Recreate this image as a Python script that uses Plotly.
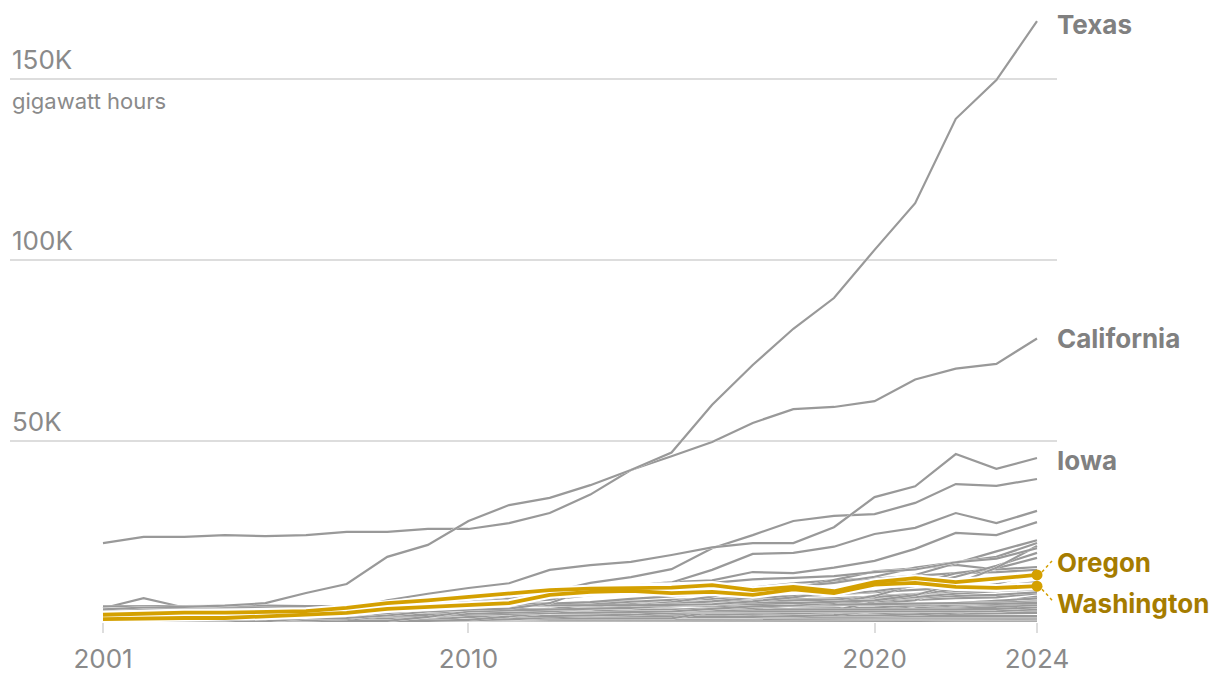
import plotly.graph_objects as go

years = list(range(2001, 2025))

# Generation, gigawatt hours
texas = [3500, 4000, 4200, 4500, 5200, 8000, 10500, 18000, 21300, 27900, 32300, 34300, 37800, 42000, 46800, 60000, 71000, 81000, 89500, 102800, 115700, 139000, 149700, 166000]
california = [21800, 23500, 23500, 24000, 23700, 24000, 24900, 24900, 25700, 25700, 27300, 30100, 35200, 42000, 45800, 49700, 55000, 58800, 59400, 61000, 67000, 70000, 71300, 78300]
iowa = [1000, 1100, 1200, 1300, 1700, 2400, 3400, 6000, 7800, 9400, 10700, 14400, 15700, 16600, 18500, 20600, 21800, 21800, 26200, 34500, 37500, 46400, 42300, 45300]
oklahoma = [300, 400, 400, 500, 1000, 1800, 2500, 3000, 4600, 5300, 6400, 8200, 10800, 12400, 14600, 20400, 24000, 27900, 29300, 29800, 32900, 38100, 37600, 39500]
kansas = [100, 100, 100, 100, 200, 1000, 1100, 1800, 2900, 3400, 3700, 5200, 9200, 9800, 10900, 14400, 18800, 19100, 20800, 24300, 26000, 30100, 27300, 30700]
illinois = [200, 200, 200, 200, 300, 500, 800, 2400, 3000, 5000, 6300, 7800, 9600, 10000, 11000, 11500, 13800, 13500, 15000, 16900, 20200, 24600, 24000, 27600]
minnesota = [800, 900, 1000, 1200, 1700, 2200, 2800, 4400, 5100, 5600, 7000, 8000, 9000, 9600, 10000, 10800, 11800, 12200, 12700, 13800, 14500, 16500, 17500, 20400]
colorado = [100, 300, 600, 900, 1000, 1000, 1300, 3200, 3400, 4500, 5500, 6200, 7400, 8200, 8300, 8800, 9400, 9800, 10800, 12500, 15000, 16500, 18000, 21800]
north_dakota = [0, 0, 100, 100, 100, 400, 600, 1700, 3000, 4700, 5100, 5100, 5500, 6400, 7100, 8100, 9100, 9200, 11500, 14000, 14800, 15800, 14500, 15200]
florida = [4300, 4400, 4500, 4400, 4500, 4400, 4300, 4400, 4500, 4500, 4600, 4600, 4500, 4600, 4700, 4900, 5700, 6800, 8400, 10000, 13000, 16300, 19500, 22600]
indiana = [100, 100, 100, 100, 100, 100, 100, 300, 1400, 2900, 3200, 3500, 3600, 3900, 4500, 4900, 5400, 5200, 5600, 6000, 7400, 10500, 15000, 21000]
nevada = [1400, 1400, 1400, 1400, 1400, 1400, 1500, 1700, 2000, 2200, 2500, 2900, 3600, 4300, 4800, 5700, 6700, 7100, 7600, 8500, 10000, 12500, 15500, 19100]
north_carolina = [2000, 2000, 2100, 2200, 2200, 2200, 2300, 2500, 2400, 2600, 2600, 2900, 3500, 4500, 5500, 7000, 9500, 10700, 11500, 12000, 12800, 13500, 13800, 14400]
new_mexico = [0, 0, 300, 300, 500, 1400, 1500, 1700, 1600, 2000, 2300, 2500, 2600, 2800, 2900, 3600, 4300, 4600, 5300, 7200, 10400, 13500, 14800, 17700]
arizona = [100, 100, 100, 100, 100, 100, 100, 100, 300, 600, 1500, 2500, 3600, 4300, 4500, 4800, 5500, 6000, 6200, 6900, 7600, 9000, 10500, 13500]
georgia = [3500, 3600, 3600, 3500, 3600, 3600, 3500, 3500, 3500, 3600, 3700, 3500, 3600, 3800, 4400, 4800, 5900, 6100, 6500, 7000, 7800, 8500, 8700, 10200]
maine = [3800, 6600, 4000, 3900, 4000, 3900, 4100, 4000, 4200, 4300, 4600, 4500, 4700, 5000, 4800, 4700, 4900, 5000, 4800, 5000, 5100, 5200, 5000, 5300]
alabama = [3000, 3100, 3200, 3100, 3300, 3300, 3200, 3000, 2800, 3100, 3100, 3200, 3300, 3200, 3300, 3300, 3400, 3400, 3300, 3300, 3400, 3500, 3600, 4000]
louisiana = [3200, 3300, 3400, 3400, 3300, 3400, 3500, 3000, 2800, 2900, 3000, 3000, 3000, 3100, 2900, 2900, 3000, 2800, 2900, 2800, 2900, 3000, 3000, 3500]
virginia = [2800, 2800, 2600, 2700, 2900, 2900, 2900, 3000, 2600, 2800, 2700, 3000, 3400, 3500, 3400, 3600, 3900, 4500, 5100, 6000, 7000, 7800, 8500, 9000]
pennsylvania = [2000, 2100, 2100, 2200, 2300, 2500, 2800, 3200, 3800, 4100, 4200, 4900, 5000, 4900, 5000, 5000, 5100, 5000, 4900, 4800, 5000, 5200, 5300, 5600]
new_york = [1900, 2000, 2100, 2100, 2200, 2600, 3000, 3500, 4200, 4400, 4800, 4800, 5500, 5700, 5600, 5700, 5900, 6100, 6300, 6500, 6800, 7200, 7500, 8200]
michigan = [2300, 2300, 2400, 2400, 2300, 2300, 2200, 2400, 2400, 2600, 3000, 3600, 4800, 5600, 6100, 6300, 6700, 7000, 7600, 8200, 8800, 9500, 9800, 11000]
wyoming = [1000, 1000, 1000, 800, 800, 800, 800, 1000, 2200, 3500, 4500, 4600, 4300, 4400, 4500, 4300, 4400, 4300, 4600, 5000, 6000, 9800, 9000, 9300]
south_dakota = [0, 0, 100, 100, 100, 100, 100, 200, 500, 1400, 1500, 1600, 1800, 2000, 2500, 2700, 2600, 2800, 3200, 5600, 6200, 6600, 6800, 7900]
nebraska = [0, 0, 0, 0, 100, 200, 200, 200, 300, 600, 700, 1300, 1700, 2500, 3200, 3600, 4600, 5100, 5300, 7200, 7600, 8200, 8500, 9500]
utah = [200, 200, 200, 200, 200, 200, 300, 300, 600, 800, 900, 900, 900, 800, 1000, 2800, 3400, 3600, 3800, 4000, 4600, 5200, 5800, 6500]
idaho = [700, 600, 600, 600, 600, 600, 700, 800, 800, 1400, 2300, 2400, 2400, 2900, 3000, 3400, 3100, 3000, 3200, 3100, 3300, 3700, 4000, 4500]
montana = [100, 100, 100, 100, 600, 900, 900, 900, 900, 1200, 1300, 1700, 1800, 1900, 2100, 2100, 2300, 2400, 2700, 2800, 3400, 3900, 4400, 5000]
missouri = [200, 200, 200, 200, 300, 300, 300, 300, 600, 1100, 1300, 1300, 1200, 1200, 1300, 1200, 1400, 1600, 1900, 3000, 4500, 4800, 5200, 6000]
south_carolina = [1700, 1700, 1800, 1800, 1900, 1900, 2000, 2000, 2000, 2100, 2100, 2200, 2300, 2300, 2400, 2700, 3000, 3300, 3600, 3900, 4500, 5200, 5800, 6500]
arkansas = [1700, 1600, 1700, 1700, 1800, 1800, 1800, 1700, 1700, 1800, 1800, 1800, 1800, 1700, 1800, 1700, 1700, 1800, 1700, 1800, 2100, 2600, 3600, 4500]
mississippi = [1500, 1500, 1500, 1600, 1500, 1500, 1600, 1500, 1500, 1600, 1600, 1600, 1500, 1600, 1600, 1600, 1700, 1800, 1900, 2100, 2400, 2700, 3000, 3300]
tennessee = [800, 800, 800, 900, 900, 900, 900, 900, 900, 900, 1000, 1100, 1200, 1300, 1400, 1600, 1700, 1800, 1900, 2000, 2100, 2200, 2300, 2500]
kentucky = [400, 400, 400, 400, 400, 400, 400, 400, 400, 400, 400, 400, 400, 500, 500, 500, 500, 500, 500, 600, 600, 700, 800, 900]
massachusetts = [1700, 1600, 1600, 1500, 1500, 1500, 1500, 1600, 1600, 1700, 1800, 2000, 2400, 2800, 3000, 3300, 3600, 3800, 3900, 4000, 4100, 4200, 4300, 4500]
new_jersey = [700, 700, 800, 800, 800, 800, 800, 800, 900, 1100, 1400, 1800, 2200, 2400, 2600, 2800, 3000, 3100, 3200, 3300, 3500, 3600, 3800, 4000]
ohio = [300, 300, 300, 300, 300, 300, 300, 400, 500, 500, 800, 1200, 1500, 1600, 1600, 1800, 2300, 2300, 2500, 2800, 3400, 4300, 5500, 7000]
wisconsin = [900, 900, 1000, 1000, 1100, 1200, 1300, 1800, 2300, 2800, 3100, 3300, 3300, 3400, 3300, 3100, 3200, 3300, 3100, 3400, 3800, 4600, 5400, 6500]
vermont = [300, 300, 400, 400, 400, 400, 400, 400, 400, 400, 500, 600, 600, 700, 700, 700, 700, 700, 700, 700, 700, 700, 700, 700]
new_hampshire = [900, 900, 900, 900, 1000, 1000, 1000, 900, 1000, 1100, 1200, 1300, 1400, 1500, 1400, 1300, 1400, 1300, 1200, 1300, 1200, 1200, 1300, 1200]
hawaii = [600, 600, 600, 600, 600, 700, 700, 700, 800, 800, 1000, 1300, 1600, 1800, 1900, 2000, 2100, 2200, 2300, 2400, 2500, 2600, 2700, 3000]
maryland = [600, 600, 600, 600, 600, 600, 600, 600, 600, 600, 700, 900, 1100, 1300, 1500, 1700, 1900, 2100, 2300, 2500, 2700, 2900, 3200, 3500]
connecticut = [800, 800, 800, 800, 800, 800, 800, 700, 700, 700, 700, 700, 700, 800, 700, 800, 800, 900, 900, 1000, 1000, 1000, 1000, 1100]
west_virginia = [0, 100, 200, 200, 200, 200, 200, 400, 700, 900, 1200, 1400, 1400, 1400, 1500, 1400, 1400, 1400, 1300, 1500, 1600, 1600, 1600, 1600]
alaska = [0, 0, 0, 0, 0, 0, 0, 0, 0, 0, 100, 100, 100, 100, 100, 100, 100, 100, 100, 100, 100, 100, 100, 100]
rhode_island = [100, 100, 100, 100, 100, 100, 100, 100, 100, 100, 100, 100, 100, 100, 100, 100, 200, 200, 300, 300, 300, 400, 400, 400]
delaware = [0, 0, 0, 0, 0, 0, 0, 0, 0, 0, 100, 100, 100, 100, 100, 100, 100, 100, 100, 100, 100, 100, 100, 100]

oregon = [2000, 2400, 2600, 2600, 2700, 3000, 3900, 5200, 6000, 6900, 8000, 8800, 9200, 9400, 9500, 10200, 8800, 9700, 8500, 11000, 12100, 11000, 11900, 13000]
washington = [800, 1000, 1100, 1100, 1500, 1900, 2500, 3600, 4100, 4700, 5200, 7500, 8300, 8600, 8000, 8300, 7500, 9000, 8000, 10300, 10800, 9700, 9400, 9900]

grey_series = [
    alaska, delaware, rhode_island, kentucky, vermont, connecticut, maryland, new_jersey,
    hawaii, tennessee, new_hampshire, west_virginia, mississippi, arkansas, massachusetts,
    ohio, wisconsin, south_carolina, missouri, montana, idaho, utah, nebraska, south_dakota,
    wyoming, pennsylvania, new_york, louisiana, alabama, virginia, maine, georgia,
    michigan, arizona, north_carolina, new_mexico, north_dakota, nevada, indiana, florida,
    colorado, minnesota, illinois, kansas, oklahoma, iowa, california, texas,
]
grey_labels = [("Texas", texas, -3), ("California", california, 0), ("Iowa", iowa, -2)]
highlight = [("Oregon", oregon, 12, 1), ("Washington", washington, -17, -1)]

x_ticks = [2001, 2010, 2020, 2024]
y_ticks = [50000, 100000, 150000]

GREY = "#999999"
GOLD = "#d4a000"
GOLD_TEXT = "#a57c00"
LABEL_GREY = "#808080"
AXIS_TEXT = "#8a8a8a"
GRID = "#dddddd"
FONT = "Inter, Roboto, sans-serif"

fig = go.Figure()

for s in grey_series:
    fig.add_trace(go.Scatter(x=years, y=s, mode="lines",
                             line=dict(color="white", width=2.5), hoverinfo="skip"))
    fig.add_trace(go.Scatter(x=years, y=s, mode="lines",
                             line=dict(color=GREY, width=2.2)))

for name, s, _, _ in highlight:
    fig.add_trace(go.Scatter(x=years, y=s, mode="lines",
                             line=dict(color="white", width=8), hoverinfo="skip"))
for name, s, _, _ in highlight:
    fig.add_trace(go.Scatter(x=years, y=s, mode="lines", name=name,
                             line=dict(color=GOLD, width=3.8)))
    fig.add_trace(go.Scatter(x=[years[-1]], y=[s[-1]], mode="markers",
                             marker=dict(color=GOLD, size=11)))

annotations = []
for v in y_ticks:
    annotations.append(dict(x=0, xref="paper", y=v, yref="y", text=f"{v // 1000}K",
                            xanchor="left", yanchor="bottom", yshift=2, showarrow=False,
                            font=dict(family=FONT, size=26, color=AXIS_TEXT)))
annotations.append(dict(x=0, xref="paper", y=y_ticks[-1], yref="y", text="gigawatt hours",
                        xanchor="left", yanchor="top", yshift=-7, showarrow=False,
                        font=dict(family=FONT, size=22, color=AXIS_TEXT)))
for name, s, shift in grey_labels:
    annotations.append(dict(x=years[-1], y=s[-1], text=f"<b>{name}</b>", xanchor="left",
                            yanchor="middle", xshift=18, yshift=shift, showarrow=False,
                            font=dict(family=FONT, size=26, color=LABEL_GREY)))
shapes = []
for name, s, shift, sign in highlight:
    annotations.append(dict(x=years[-1], y=s[-1], text=f"<b>{name}</b>", xanchor="left",
                            yanchor="middle", xshift=18, yshift=shift, showarrow=False,
                            font=dict(family=FONT, size=26, color=GOLD_TEXT)))
    shapes.append(dict(type="line", xref="x", yref="y", xsizemode="pixel", ysizemode="pixel",
                       xanchor=years[-1], yanchor=s[-1], x0=5, x1=15,
                       y0=3 * sign, y1=14 * sign,
                       line=dict(color=GOLD, width=1.5, dash="dot")))

px_per_year = (1037 - 103) / 23
fig.update_layout(
    width=1220, height=686,
    margin=dict(l=10, r=163, t=10, b=64, autoexpand=False),
    paper_bgcolor="white", plot_bgcolor="white",
    showlegend=False,
    hovermode=False,
    annotations=annotations,
    shapes=shapes,
    xaxis=dict(range=[2001 - 93 / px_per_year, 2024 + 20 / px_per_year],
               tickvals=x_ticks, ticktext=[str(t) for t in x_ticks],
               showgrid=False, zeroline=False, showline=False, automargin=False,
               ticks="outside", ticklen=10, tickwidth=1.5, tickcolor=GRID,
               ticklabelstandoff=4,
               tickfont=dict(family=FONT, size=26, color=AXIS_TEXT)),
    yaxis=dict(range=[0, 612 / 3.62 * 1000], tickvals=[0] + y_ticks,
               showticklabels=False, showgrid=True, gridcolor=GRID, gridwidth=1.5,
               zeroline=False, showline=False, automargin=False),
)

fig.write_html(
    "out.html",
    config={"displayModeBar": False},
    post_script="document.body.style.margin='0';document.body.style.overflow='hidden';",
)
